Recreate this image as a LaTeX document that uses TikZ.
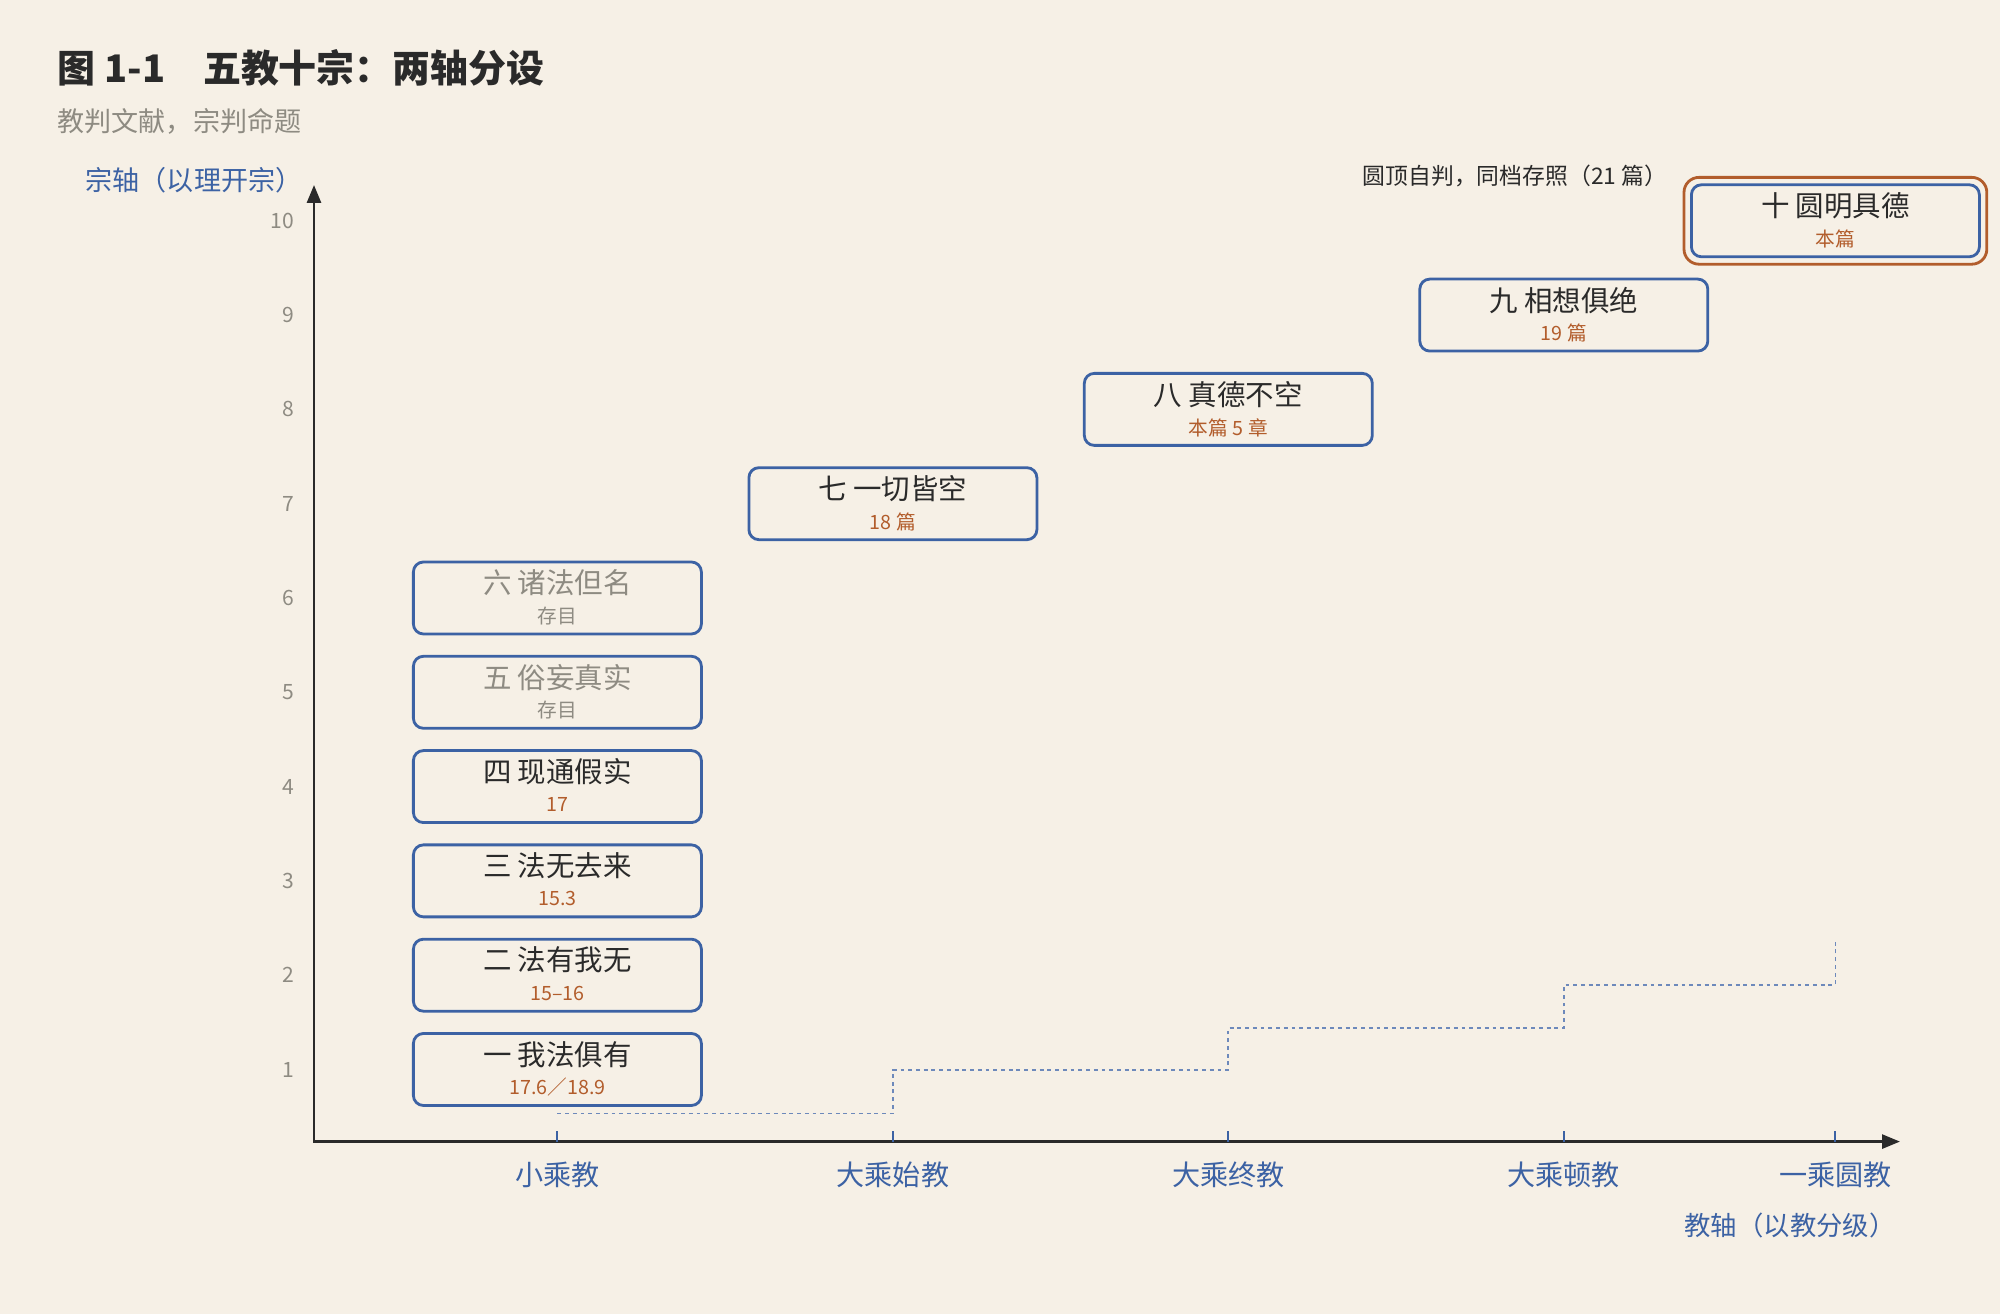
\documentclass[tikz,border=0pt]{standalone}
\usepackage{fontspec}
\setmainfont{Noto Sans CJK SC}
\usetikzlibrary{arrows.meta,fit,positioning}
\definecolor{paper}{HTML}{F6F0E6}
\definecolor{ink}{HTML}{2A2A2A}
\definecolor{grey}{HTML}{8E8B82}
\definecolor{zblue}{HTML}{3C62A4}
\definecolor{rust}{HTML}{B25D2C}
\begin{document}
\begin{tikzpicture}[
    zbox/.style={draw=zblue, line width=0.8pt, rounded corners=0.1cm,
      minimum width=2.88cm, minimum height=0.72cm, inner sep=0pt},
    zmain/.style={inner sep=0pt, font=\fontsize{8.1pt}{9pt}\selectfont},
    zsub/.style={inner sep=0pt, font=\fontsize{5.6pt}{6.5pt}\selectfont},
    ynum/.style={anchor=east, inner sep=0pt, text=grey, font=\fontsize{6pt}{7pt}\selectfont},
    xlab/.style={inner sep=0pt, text=zblue, font=\fontsize{8pt}{9pt}\selectfont},
    axis/.style={draw=ink, line width=0.8pt},
    stairs/.style={draw=zblue!75, line width=0.5pt, dash pattern=on 1.1pt off 1.1pt}
  ]
  \fill[paper] (0,0) rectangle (20,13.14);
  \useasboundingbox (0,0) rectangle (20,13.14);

  \node [anchor=west, inner sep=0pt, text=ink, font=\fontsize{10.8pt}{12pt}\selectfont\bfseries] (title) at (0.57,12.46) {图 1-1　五教十宗：两轴分设};
  \node [anchor=west, inner sep=0pt, text=grey, font=\fontsize{7.7pt}{9pt}\selectfont] (subtitle) at (0.57,11.93) {教判文献，宗判命题};

  \coordinate (o) at (3.14,1.724);
  \coordinate (ytop) at (3.14,11.29);
  \coordinate (xend) at (19.0,1.724);
  \draw[axis, {Triangle[length=0.18cm,width=0.14cm]}-{Triangle[length=0.18cm,width=0.14cm]}] (ytop) -- (o) -- (xend);
  \node [inner sep=0pt, text=zblue, font=\fontsize{7.7pt}{9pt}\selectfont] (ylabel) at (1.94,11.34) {宗轴（以理开宗）};
  \node [inner sep=0pt, text=zblue, font=\fontsize{7.5pt}{9pt}\selectfont] (xlabel) at (17.9,0.882) {教轴（以教分级）};

  \foreach \n in {1,...,10}
  {
    \node [ynum] (y\n) at (2.95, {1.502+0.943*\n}) {\n};
  }
  \foreach \x/\name [count=\i] in {5.574/小乘教, 8.929/大乘始教, 12.283/大乘终教, 15.638/大乘顿教, 18.354/一乘圆教}
  {
    \coordinate (t\i) at (\x,1.724);
    \draw[zblue, line width=0.6pt] (t\i) -- ++(0,0.11);
    \node [xlab] (x\i) at (\x,1.39) {\name};
  }
  \draw[stairs] (5.574,2.005) -| (8.929,2.44) -| (12.283,2.86) -| (15.638,3.29) -| (18.354,3.73);

  \foreach \n/\x/\main/\sub/\mc/\sc in {
    1/5.574/一 我法俱有/17.6／18.9/ink/rust,
    2/5.574/二 法有我无/15–16/ink/rust,
    3/5.574/三 法无去来/15.3/ink/rust,
    4/5.574/四 现通假实/17/ink/rust,
    5/5.574/五 俗妄真实/存目/grey/grey,
    6/5.574/六 诸法但名/存目/grey/grey,
    7/8.929/七 一切皆空/18 篇/ink/rust,
    8/12.283/八 真德不空/本篇 5 章/ink/rust,
    9/15.638/九 相想俱绝/19 篇/ink/rust,
    10/18.354/十 圆明具德/本篇/ink/rust}
  {
    \node [zbox] (z\n) at (\x, {1.502+0.943*\n}) {};
    \node [zmain, text=\mc] (z\n-m) at ([yshift=0.15cm]z\n.center) {\main};
    \node [zsub, text=\sc] (z\n-s) at ([yshift=-0.18cm]z\n.center) {\sub};
  }
  \node [draw=rust, line width=0.8pt, rounded corners=0.15cm, inner sep=0.06cm, fit=(z10)] (z10-f) {};
  \node [anchor=west, inner sep=0pt, text=ink, font=\fontsize{6.5pt}{7pt}\selectfont] (note) at (13.62,11.38) {圆顶自判，同档存照（21 篇）};
\end{tikzpicture}
\end{document}
